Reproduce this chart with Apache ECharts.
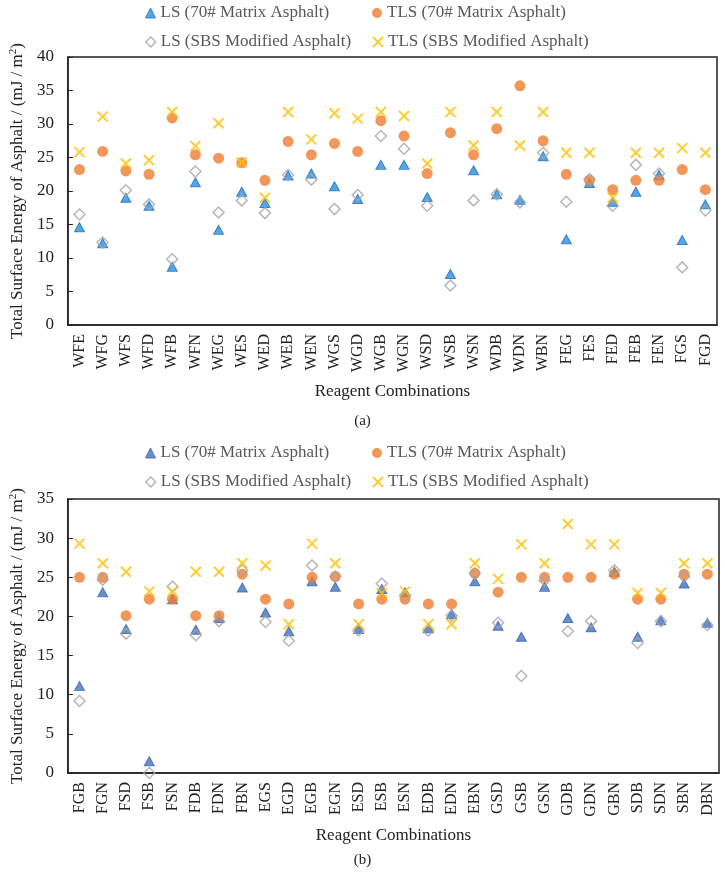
<!DOCTYPE html>
<html>
<head>
<meta charset="utf-8">
<script src="https://cdn.jsdelivr.net/npm/echarts@6/dist/echarts.min.js"></script>
<style>
  html, body { margin: 0; padding: 0; background: #fff; }
  #chart { width: 725px; height: 873px; }
</style>
</head>
<body>
<div id="chart"></div>
<script>
// panel (a)
var catsA = ['WFE','WFG','WFS','WFD','WFB','WFN','WEG','WES','WED','WEB','WEN','WGS','WGD','WGB','WGN','WSD','WSB','WSN','WDB','WDN','WBN','FEG','FES','FED','FEB','FEN','FGS','FGD'];
var lsMatrixA = [14.6,12.2,19.0,17.8,8.7,21.3,14.2,19.9,18.2,22.3,22.6,20.7,18.8,23.9,23.9,19.1,7.6,23.1,19.5,18.7,25.2,12.8,21.2,18.4,19.9,22.4,12.7,18.0];
var tlsMatrixA = [23.2,25.9,23.0,22.5,30.9,25.4,24.9,24.2,21.6,27.4,25.4,27.1,25.9,30.5,28.2,22.6,28.7,25.4,29.3,35.7,27.5,22.5,21.6,20.2,21.6,21.6,23.2,20.2];
var lsSbsA = [16.5,12.3,20.1,18.0,9.8,22.9,16.8,18.6,16.7,22.4,21.7,17.3,19.4,28.2,26.3,17.8,5.9,18.6,19.5,18.3,25.7,18.4,21.8,17.8,23.9,22.6,8.6,17.1];
var tlsSbsA = [25.8,31.1,24.1,24.6,31.8,26.7,30.1,24.3,19.0,31.8,27.7,31.6,30.8,31.8,31.2,24.1,31.8,26.8,31.8,26.8,31.8,25.7,25.7,19.0,25.7,25.7,26.4,25.7];

// panel (b)
var catsB = ['FGB','FGN','FSD','FSB','FSN','FDB','FDN','FBN','EGS','EGD','EGB','EGN','ESD','ESB','ESN','EDB','EDN','EBN','GSD','GSB','GSN','GDB','GDN','GBN','SDB','SDN','SBN','DBN'];
var lsMatrixB = [11.1,23.1,18.4,1.5,22.2,18.3,19.8,23.7,20.5,18.1,24.5,23.8,18.4,23.5,23.1,18.5,20.3,24.5,18.8,17.4,23.8,19.8,18.6,25.7,17.4,19.5,24.2,19.2];
var tlsMatrixB = [25.0,25.0,20.1,22.2,22.2,20.1,20.1,25.4,22.2,21.6,25.0,25.1,21.6,22.2,22.2,21.6,21.6,25.5,23.1,25.0,25.0,25.0,25.0,25.4,22.2,22.2,25.4,25.4];
var lsSbsB = [9.2,24.7,17.8,0,23.8,17.6,19.4,25.9,19.3,16.9,26.5,25.1,18.2,24.2,22.7,18.2,20.1,25.5,19.2,12.4,24.6,18.1,19.4,25.9,16.6,19.4,25.1,18.9];
var tlsSbsB = [29.3,26.8,25.7,23.2,23.2,25.7,25.7,26.8,26.5,19.0,29.3,26.8,19.0,23.0,23.2,19.0,19.0,26.8,24.8,29.2,26.8,31.8,29.2,29.2,23.0,23.0,26.8,26.8];

var names = ['LS (70# Matrix Asphalt)', 'TLS (70# Matrix Asphalt)', 'LS (SBS Modified Asphalt)', 'TLS (SBS Modified Asphalt)'];
var yName = 'Total Surface Energy of Asphalt / (mJ / m{sup|2})';

var FONT = 'Liberation Serif';
var crossPath = 'path://M0,0L10,10M10,0L0,10';

function styles(triColor, triBorder) {
    return [
        { symbol: 'triangle', size: [10, 9], style: { color: triColor, borderColor: triBorder, borderWidth: 1 } },
        { symbol: 'circle', size: 11, style: { color: '#ED7D31' } },
        { symbol: 'diamond', size: 11, style: { color: 'rgba(0,0,0,0)', borderColor: '#A5A5A5', borderWidth: 1.5 } },
        { symbol: crossPath, size: 10, style: { color: 'rgba(0,0,0,0)', borderColor: '#FFC000', borderWidth: 2 } }
    ];
}

function makeSeries(idx, data, st) {
    var s = [];
    for (var i = 0; i < 4; i++) {
        s.push({
            name: names[i],
            type: 'scatter',
            xAxisIndex: idx,
            yAxisIndex: idx,
            symbol: st[i].symbol,
            symbolSize: st[i].size,
            itemStyle: st[i].style,
            data: data[i],
            z: 2 + i
        });
    }
    return s;
}

function makeLegends(top1, st) {
    var pos = [[145, top1], [372, top1], [145, top1 + 29], [372, top1 + 29]];
    var l = [];
    for (var i = 0; i < 4; i++) {
        l.push({
            left: pos[i][0],
            top: pos[i][1],
            padding: 0,
            itemWidth: 10,
            itemHeight: 10,
            itemGap: 4,
            selectedMode: false,
            textStyle: { fontFamily: FONT, fontSize: 17, color: '#595959', lineHeight: 20 },
            data: [{ name: names[i], icon: st[i].symbol, itemStyle: st[i].style }]
        });
    }
    return l;
}

function xAxisOf(idx, cats, gap) {
    return {
        type: 'category',
        gridIndex: idx,
        data: cats,
        boundaryGap: true,
        name: 'Reagent Combinations',
        nameLocation: 'middle',
        nameGap: gap,
        nameTextStyle: { fontFamily: FONT, fontSize: 17, color: '#222' },
        axisLine: { lineStyle: { color: '#222', width: 1.5 } },
        axisTick: { inside: true, length: 5, lineStyle: { color: '#222' } },
        axisLabel: { rotate: 90, margin: 9, interval: 0, fontFamily: FONT, fontSize: 16, color: '#222' },
        splitLine: { show: false }
    };
}

function yAxisOf(idx, max) {
    return {
        type: 'value',
        gridIndex: idx,
        min: 0,
        max: max,
        interval: 5,
        name: yName,
        nameLocation: 'middle',
        nameGap: 38,
        nameTextStyle: {
            fontFamily: FONT, fontSize: 17, color: '#222',
            rich: { sup: { fontFamily: FONT, fontSize: 11, color: '#222', verticalAlign: 'top', padding: [0, 0, 8, 0] } }
        },
        axisLine: { show: true, lineStyle: { color: '#222', width: 1.5 } },
        axisTick: { show: true, inside: true, length: 5, lineStyle: { color: '#222' } },
        axisLabel: { margin: 14, fontFamily: FONT, fontSize: 17, color: '#222' },
        splitLine: { show: false }
    };
}

var dom = document.getElementById('chart');
var myChart = echarts.init(dom, null, { renderer: 'canvas' });

var stA = styles('#2B8FE3', '#1C6FC4');
var stB = styles('#4472C4', '#3B64AE');

var option = {
    animation: false,
    backgroundColor: '#fff',
    title: [
        { text: '(a)', left: 'center', top: 409, textStyle: { fontFamily: FONT, fontSize: 15, fontWeight: 'normal', color: '#222' } },
        { text: '(b)', left: 'center', top: 848, textStyle: { fontFamily: FONT, fontSize: 15, fontWeight: 'normal', color: '#222' } }
    ],
    legend: makeLegends(3, stA).concat(makeLegends(443, stB)),
    grid: [
        { left: 62, top: 57, width: 655, height: 268, show: true, borderColor: '#222', borderWidth: 1.5, backgroundColor: 'transparent' },
        { left: 62, top: 499, width: 657, height: 274, show: true, borderColor: '#222', borderWidth: 1.5, backgroundColor: 'transparent' }
    ],
    xAxis: [xAxisOf(0, catsA, 58), xAxisOf(1, catsB, 54)],
    yAxis: [yAxisOf(0, 40), yAxisOf(1, 35)],
    series: makeSeries(0, [lsMatrixA, tlsMatrixA, lsSbsA, tlsSbsA], stA)
        .concat(makeSeries(1, [lsMatrixB, tlsMatrixB, lsSbsB, tlsSbsB], stB))
};

myChart.setOption(option);
window.addEventListener('resize', myChart.resize);
</script>
</body>
</html>
